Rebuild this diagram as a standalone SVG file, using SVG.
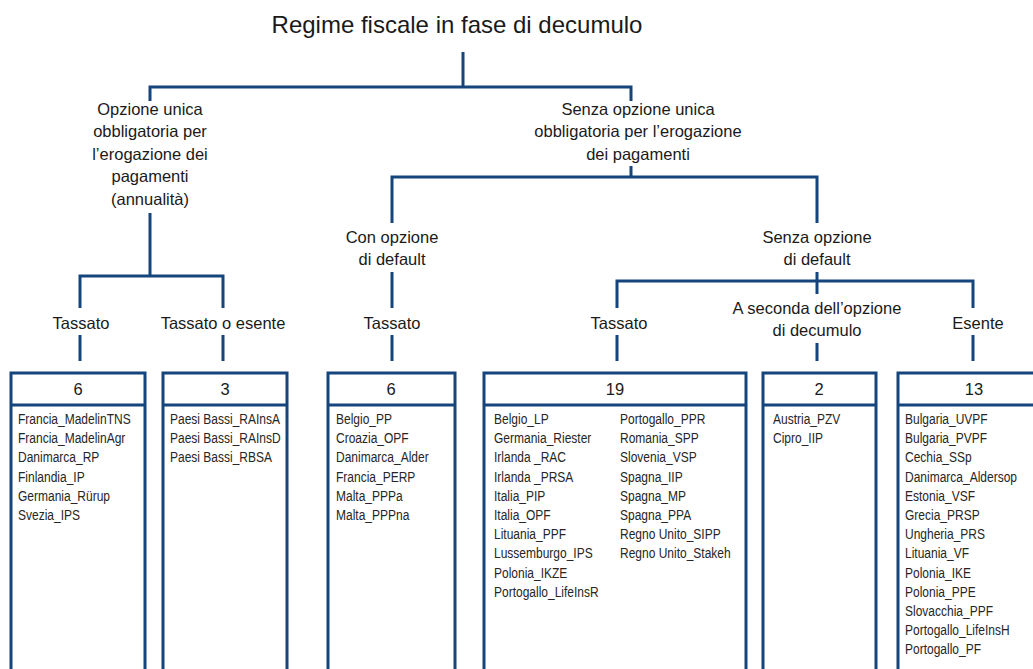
<svg xmlns="http://www.w3.org/2000/svg" width="1033" height="669" viewBox="0 0 1033 669">
<style>
.t{font-family:"Liberation Sans",Arial,sans-serif;fill:#1a1a1a;text-anchor:middle}
.title{font-size:24px}
.lab{font-size:16.5px}
.hd{font-family:"Liberation Sans",Arial,sans-serif;font-size:16.5px;fill:#1a1a1a;text-anchor:middle}
.it{font-family:"Liberation Sans",Arial,sans-serif;font-size:15px;fill:#262626}
.box{fill:#fff;stroke:#15457d;stroke-width:3}
.ln{fill:none;stroke:#15457d;stroke-width:3}
</style>
<rect width="1033" height="669" fill="#fff"/>
<g id="connectors" class="ln">
<path d="M463 52V87"/>
<path d="M150 101V87H631V101"/>
<path d="M150 213V276"/>
<path d="M80 308V276H223V308"/>
<path d="M80 335V361M223 335V361"/>
<path d="M631 166V177"/>
<path d="M392 223V177H817V223"/>
<path d="M392 272V308M392 335V361"/>
<path d="M817 272V294"/>
<path d="M617 308V281H973V308"/>
<path d="M617 335V361M817 343V361M973 335V361"/>
</g>
<g id="title"><text class="t title" x="457" y="33">Regime fiscale in fase di decumulo</text></g>
<g id="n-opzione-unica"><text class="t lab" x="150" y="115">Opzione unica</text><text class="t lab" x="150" y="137.3">obbligatoria per</text><text class="t lab" x="150" y="159.7">l’erogazione dei</text><text class="t lab" x="150" y="182">pagamenti</text><text class="t lab" x="150" y="204.5">(annualità)</text></g>
<g id="n-senza-opzione-unica"><text class="t lab" x="638" y="115">Senza opzione unica</text><text class="t lab" x="638" y="137.3">obbligatoria per l’erogazione</text><text class="t lab" x="638" y="159.7">dei pagamenti</text></g>
<g id="n-con-default"><text class="t lab" x="392" y="243">Con opzione</text><text class="t lab" x="392" y="265">di default</text></g>
<g id="n-senza-default"><text class="t lab" x="817" y="243">Senza opzione</text><text class="t lab" x="817" y="265">di default</text></g>
<g id="n-tassato-1"><text class="t lab" x="81" y="329">Tassato</text></g>
<g id="n-tassato-esente"><text class="t lab" x="223" y="329">Tassato o esente</text></g>
<g id="n-tassato-2"><text class="t lab" x="392" y="329">Tassato</text></g>
<g id="n-tassato-3"><text class="t lab" x="619" y="329">Tassato</text></g>
<g id="n-a-seconda"><text class="t lab" x="817" y="314">A seconda dell’opzione</text><text class="t lab" x="817" y="335.5">di decumulo</text></g>
<g id="n-esente"><text class="t lab" x="978" y="329">Esente</text></g>

<g id="box-1"><rect class="box" x="11" y="373" width="134" height="320"/><path class="ln" d="M11 405H145"/><text class="hd" x="78" y="395">6</text>
<g transform="translate(18 0) scale(0.8 1)"><text class="it"><tspan x="0" y="424">Francia_MadelinTNS</tspan><tspan x="0" y="443.2">Francia_MadelinAgr</tspan><tspan x="0" y="462.4">Danimarca_RP</tspan><tspan x="0" y="481.6">Finlandia_IP</tspan><tspan x="0" y="500.8">Germania_Rürup</tspan><tspan x="0" y="520">Svezia_IPS</tspan></text></g></g>
<g id="box-2"><rect class="box" x="163" y="373" width="124" height="320"/><path class="ln" d="M163 405H287"/><text class="hd" x="225" y="395">3</text>
<g transform="translate(170 0) scale(0.8 1)"><text class="it"><tspan x="0" y="424">Paesi Bassi_RAInsA</tspan><tspan x="0" y="443.2">Paesi Bassi_RAInsD</tspan><tspan x="0" y="462.4">Paesi Bassi_RBSA</tspan></text></g></g>
<g id="box-3"><rect class="box" x="328" y="373" width="127" height="320"/><path class="ln" d="M328 405H455"/><text class="hd" x="391" y="395">6</text>
<g transform="translate(336 0) scale(0.8 1)"><text class="it"><tspan x="0" y="424">Belgio_PP</tspan><tspan x="0" y="443.2">Croazia_OPF</tspan><tspan x="0" y="462.4">Danimarca_Alder</tspan><tspan x="0" y="481.6">Francia_PERP</tspan><tspan x="0" y="500.8">Malta_PPPa</tspan><tspan x="0" y="520">Malta_PPPna</tspan></text></g></g>
<g id="box-4"><rect class="box" x="484" y="373" width="262" height="320"/><path class="ln" d="M484 405H746"/><text class="hd" x="615" y="395">19</text>
<g transform="translate(494 0) scale(0.8 1)"><text class="it"><tspan x="0" y="424">Belgio_LP</tspan><tspan x="0" y="443.2">Germania_Riester</tspan><tspan x="0" y="462.4">Irlanda _RAC</tspan><tspan x="0" y="481.6">Irlanda _PRSA</tspan><tspan x="0" y="500.8">Italia_PIP</tspan><tspan x="0" y="520">Italia_OPF</tspan><tspan x="0" y="539.2">Lituania_PPF</tspan><tspan x="0" y="558.4">Lussemburgo_IPS</tspan><tspan x="0" y="577.6">Polonia_IKZE</tspan><tspan x="0" y="596.8">Portogallo_LifeInsR</tspan></text></g>
<g transform="translate(620 0) scale(0.8 1)"><text class="it"><tspan x="0" y="424">Portogallo_PPR</tspan><tspan x="0" y="443.2">Romania_SPP</tspan><tspan x="0" y="462.4">Slovenia_VSP</tspan><tspan x="0" y="481.6">Spagna_IIP</tspan><tspan x="0" y="500.8">Spagna_MP</tspan><tspan x="0" y="520">Spagna_PPA</tspan><tspan x="0" y="539.2">Regno Unito_SIPP</tspan><tspan x="0" y="558.4">Regno Unito_Stakeh</tspan></text></g></g>
<g id="box-5"><rect class="box" x="763" y="373" width="113" height="320"/><path class="ln" d="M763 405H876"/><text class="hd" x="819" y="395">2</text>
<g transform="translate(773 0) scale(0.8 1)"><text class="it"><tspan x="0" y="424">Austria_PZV</tspan><tspan x="0" y="443.2">Cipro_IIP</tspan></text></g></g>
<g id="box-6"><rect class="box" x="898" y="373" width="152" height="320"/><path class="ln" d="M898 405H1050"/><text class="hd" x="974" y="395">13</text>
<g transform="translate(905 0) scale(0.8 1)"><text class="it"><tspan x="0" y="424">Bulgaria_UVPF</tspan><tspan x="0" y="443.2">Bulgaria_PVPF</tspan><tspan x="0" y="462.4">Cechia_SSp</tspan><tspan x="0" y="481.6">Danimarca_Aldersop</tspan><tspan x="0" y="500.8">Estonia_VSF</tspan><tspan x="0" y="520">Grecia_PRSP</tspan><tspan x="0" y="539.2">Ungheria_PRS</tspan><tspan x="0" y="558.4">Lituania_VF</tspan><tspan x="0" y="577.6">Polonia_IKE</tspan><tspan x="0" y="596.8">Polonia_PPE</tspan><tspan x="0" y="616">Slovacchia_PPF</tspan><tspan x="0" y="635.2">Portogallo_LifeInsH</tspan><tspan x="0" y="654.4">Portogallo_PF</tspan></text></g></g>
</svg>
